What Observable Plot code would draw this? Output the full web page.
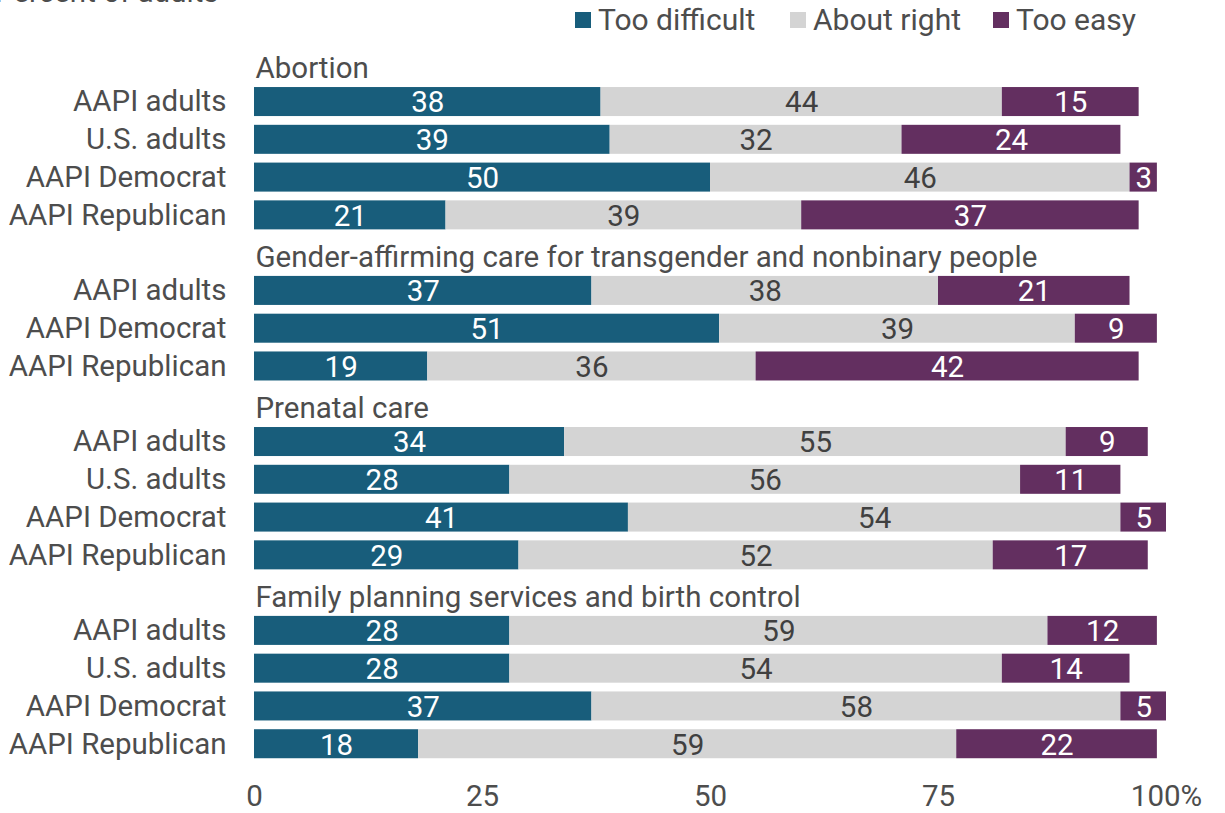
<!DOCTYPE html>
<html>
<head>
<meta charset="utf-8">
<script src="https://cdn.jsdelivr.net/npm/d3@7"></script>
<script src="https://cdn.jsdelivr.net/npm/@observablehq/plot@0.6"></script>
<style>
  body { margin: 0; background: #fff; font-family: Roboto, sans-serif; }
  #wrap { position: relative; width: 1225px; height: 813px; overflow: hidden; }
  #title { position: absolute; left: -5px; top: -25px; font-size: 29.5px; line-height: 34px; color: #4d4d4d; white-space: nowrap; }
  .leg { position: absolute; top: 3px; display: flex; align-items: center; font-size: 30px; line-height: 34px; color: #4d4d4d; white-space: nowrap; }
  .sw { width: 16px; height: 16px; margin-right: 7px; }
  #chart { position: absolute; left: 0; top: 0; }
</style>
</head>
<body>
<div id="wrap">
  <div id="chart"></div>
  <div id="title">Percent of adults</div>
  <div id="legend"></div>
</div>
<script>
const topics = [
  "Abortion",
  "Gender-affirming care for transgender and nonbinary people",
  "Prenatal care",
  "Family planning services and birth control"
];
const groupsByTopic = [
  ["AAPI adults", "U.S. adults", "AAPI Democrat", "AAPI Republican"],
  ["AAPI adults", "AAPI Democrat", "AAPI Republican"],
  ["AAPI adults", "U.S. adults", "AAPI Democrat", "AAPI Republican"],
  ["AAPI adults", "U.S. adults", "AAPI Democrat", "AAPI Republican"]
];
const categories = ["Too difficult", "About right", "Too easy"];
const tooDifficult = [38, 39, 50, 21, 37, 51, 19, 34, 28, 41, 29, 28, 28, 37, 18];
const aboutRight   = [44, 32, 46, 39, 38, 39, 36, 55, 56, 54, 52, 59, 54, 58, 59];
const tooEasy      = [15, 24, 3, 37, 21, 9, 42, 9, 11, 5, 17, 12, 14, 5, 22];
const xTicks = [0, 25, 50, 75, 100];
const colors = ["#185d7b", "#d4d4d4", "#632f60"];
const labelColors = ["#ffffff", "#404040", "#ffffff"];

// Build row keys (heading slot + group rows per topic)
const domain = [];
const labelOf = new Map();
const headings = [];
const rows = [];
topics.forEach((t, ti) => {
  const hk = "H|" + t;
  domain.push(hk);
  labelOf.set(hk, "");
  headings.push({key: hk, topic: t});
  groupsByTopic[ti].forEach(g => {
    const k = "R|" + t + "|" + g;
    domain.push(k);
    labelOf.set(k, g);
    rows.push({key: k, topic: t, group: g});
  });
});
const series = [tooDifficult, aboutRight, tooEasy];
const long = [];
rows.forEach((r, i) => {
  categories.forEach((c, ci) => {
    long.push({key: r.key, cat: c, value: series[ci][i],
               fill: colors[ci], tfill: labelColors[ci]});
  });
});
// gridline segments: every slot except the first heading slot
const gridSlots = domain.slice(1);
const grid = [];
gridSlots.forEach(k => xTicks.forEach(t => grid.push({key: k, t})));

const FS = 29.5;
const chart = Plot.plot({
  width: 1225,
  height: 813,
  marginLeft: 254,
  marginRight: 59,
  marginTop: 40.5,
  marginBottom: 46,
  style: {fontFamily: "Roboto, sans-serif", color: "#4d4d4d", background: "transparent"},
  x: {domain: [0, 100]},
  y: {type: "band", domain, padding: 0.232, round: false},
  color: {type: "identity"},
  marks: [
    Plot.ruleX(grid, {x: "t", y: "key", stroke: "#e0e0e0", strokeWidth: 1.6, insetTop: -4.6, insetBottom: -4.6}),
    Plot.barX(long, Plot.stackX({x: "value", y: "key", z: "cat", order: categories, fill: "fill"})),
    Plot.text(long, Plot.stackX({x: "value", y: "key", z: "cat", order: categories,
      text: d => String(d.value), fill: "tfill", fontSize: FS, dy: 1})),
    Plot.text(headings, {y: "key", text: "topic", frameAnchor: "left", textAnchor: "start",
      lineAnchor: "bottom", dy: 14, dx: 1, fontSize: FS, fill: "#4d4d4d"}),
    Plot.axisY({tickSize: 0, tickPadding: 28, fontSize: FS, tickFormat: k => labelOf.get(k), label: null}),
    Plot.axisX({ticks: xTicks, tickSize: 0, tickPadding: 18, fontSize: FS, label: null,
      tickFormat: d => d === 100 ? "100%" : String(d)})
  ]
});
document.getElementById("chart").appendChild(chart);

// legend
const legendLeft = [575, 790, 993];
const legend = document.getElementById("legend");
categories.forEach((c, i) => {
  const item = document.createElement("div");
  item.className = "leg";
  item.style.left = legendLeft[i] + "px";
  const sw = document.createElement("div");
  sw.className = "sw";
  sw.style.background = colors[i];
  const tx = document.createElement("span");
  tx.textContent = c;
  item.appendChild(sw);
  item.appendChild(tx);
  legend.appendChild(item);
});
</script>
</body>
</html>
